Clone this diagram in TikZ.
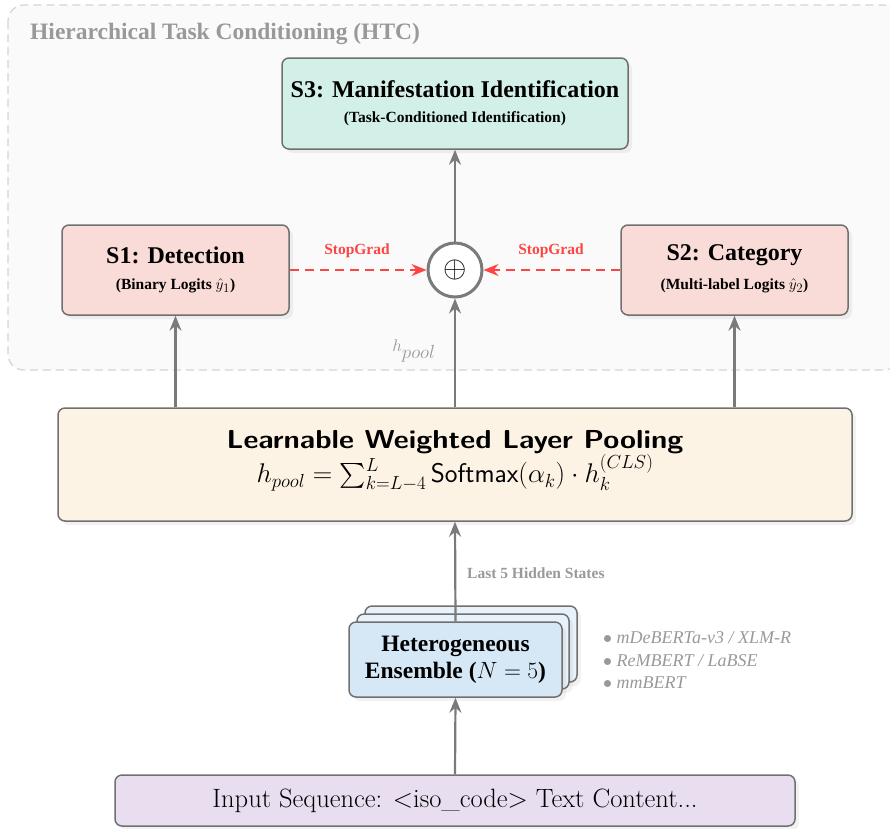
\RequirePackage{fix-cm}
\documentclass[tikz,border=0pt]{standalone}
\usepackage{exscale}
\usepackage{graphicx}
\usepackage{fontspec}
\newfontfamily\tms{Liberation Serif}
\usetikzlibrary{arrows.meta,shadows}

% explicit math size ladders for the large type used below
\DeclareMathSizes{27}{27}{18.9}{13.5}
\DeclareMathSizes{23.5}{23.5}{16.5}{11.8}
\DeclareMathSizes{30}{30}{21}{15}

% subscript set at a chosen size
\newcommand{\bigsub}[2]{\mbox{\fontsize{#1}{#1}\selectfont$#2$}}

\definecolor{edgegray}{HTML}{707070}
\definecolor{arrowgray}{HTML}{7A7A7A}
\definecolor{softgray}{HTML}{999999}
\definecolor{panelfill}{HTML}{FAFAFA}
\definecolor{paneledge}{HTML}{D4D4D4}
\definecolor{mintfill}{HTML}{D2F0E8}
\definecolor{pinkfill}{HTML}{F9DCD8}
\definecolor{creamfill}{HTML}{FDF3E4}
\definecolor{bluefill}{HTML}{D6E8F6}
\definecolor{bluelight}{HTML}{E8F2FA}
\definecolor{lilacfill}{HTML}{E8DEF0}
\definecolor{gradred}{HTML}{FF4444}

\tikzset{
  box/.style={draw=edgegray, line width=1.5pt, rounded corners=7pt,
    drop shadow={shadow xshift=4pt, shadow yshift=-4pt, opacity=0.10}},
  txt/.style={inner sep=0pt},
  arr/.style={draw=arrowgray, line width=2.2pt,
    -{Stealth[length=15pt,width=12pt,inset=5pt]}},
  gradarr/.style={draw=gradred, line width=2.2pt, dash pattern=on 9pt off 6pt,
    -{Stealth[length=15pt,width=12pt,inset=5pt]}},
  headtxt/.style={txt, font=\tms\bfseries\fontsize{24}{28}\selectfont},
  subtxt/.style={txt, font=\tms\bfseries\fontsize{15.5}{18}\selectfont},
  gradtxt/.style={txt, font=\tms\bfseries\fontsize{15.5}{18}\selectfont, text=gradred},
  notetxt/.style={txt, font=\tms\itshape\fontsize{18}{22}\selectfont, text=softgray, anchor=west},
}

\begin{document}
\begin{tikzpicture}[x=1pt, y=-1pt]
  \useasboundingbox (0,0) rectangle (890,828);

  % HTC panel
  \draw[fill=panelfill, draw=paneledge, line width=1.2pt, dash pattern=on 8pt off 5pt,
        rounded corners=16pt] (8,5) rectangle (900,370);
  \node[txt, font=\tms\bfseries\fontsize{23.5}{28}\selectfont, text=softgray, anchor=west]
    (htctitle) at (30,34) {Hierarchical Task Conditioning (HTC)};

  % Stage heads
  \node[box, fill=mintfill, minimum width=346pt, minimum height=91pt] (s3) at (455,103.5) {};
  \node[headtxt] (s3title) at (455,89) {S3: Manifestation Identification};
  \node[subtxt] (s3sub) at (455,119) {(Task-Conditioned Identification)};

  \node[box, fill=pinkfill, minimum width=227pt, minimum height=90pt] (s1) at (175.5,270) {};
  \node[headtxt] (s1title) at (175.5,255) {S1: Detection};
  \node[subtxt] (s1sub) at (175.5,286) {(Binary Logits $\hat{y}_{\bigsub{13}{1}}$)};

  \node[box, fill=pinkfill, minimum width=227pt, minimum height=90pt] (s2) at (734.5,270) {};
  \node[headtxt] (s2title) at (734.5,255) {S2: Category};
  \node[subtxt] (s2sub) at (734.5,286) {(Multi-label Logits $\hat{y}_{\bigsub{13}{2}}$)};

  % Fusion node
  \node[circle, draw=arrowgray, line width=3pt, fill=white, minimum size=54pt, inner sep=0pt,
        font=\fontsize{30}{32}\selectfont] (sum) at (455,270) {$\oplus$};

  \draw[gradarr] (s1.east) -- (sum.west);
  \draw[gradarr] (s2.west) -- (sum.east);
  \node[gradtxt] (sg1) at (357,251) {StopGrad};
  \node[gradtxt] (sg2) at (551,251) {StopGrad};
  \draw[arr] (sum.north) -- (s3.south);

  % Pooling
  \node[box, fill=creamfill, minimum width=794pt, minimum height=113pt] (pool) at (455,464.5) {};
  \node[txt, font=\sffamily\bfseries\fontsize{26}{30}\selectfont] (pooltitle) at (455,442)
    {\scalebox{1.12}[1]{Learnable Weighted Layer Pooling}};
  \node[txt, font=\fontsize{27}{32}\selectfont] (poolformula) at (455,473)
    {$h_{pool} = \sum_{k=L-4}^{L} \textsf{Softmax}(\alpha_k)\cdot h_k^{(CLS)}$};

  \draw[arr] (pool.north -| s1.south) -- (s1.south);
  \draw[arr] (pool.north) -- (sum.south);
  \draw[arr] (pool.north -| s2.south) -- (s2.south);
  \node[txt, font=\fontsize{17}{20}\selectfont, text=softgray] (hlabel) at (414,351)
    {$h_{\bigsub{19}{pool}}$};

  % Encoder ensemble (stacked cards)
  \node[box, fill=bluelight, minimum width=212pt, minimum height=76pt] (ens3) at (471,644) {};
  \node[box, fill=bluelight, minimum width=212pt, minimum height=75pt] (ens2) at (463,651.5) {};
  \node[box, fill=bluefill, minimum width=213pt, minimum height=75pt] (ens) at (455.5,659.5) {};
  \node[txt, align=center, font=\tms\bfseries\fontsize{23.5}{27}\selectfont] (enstxt) at (455.5,659.5)
    {Heterogeneous\\Ensemble ($N=5$)};

  \draw[arr] (ens.north) -- (pool.south);
  \node[txt, font=\tms\bfseries\fontsize{15.5}{18}\selectfont, text=softgray, anchor=west]
    (hidden) at (467,573) {Last 5 Hidden States};

  \node[notetxt] (m1) at (603,638) {$\bullet$ mDeBERTa-v3 / XLM-R};
  \node[notetxt] (m2) at (603,661) {$\bullet$ ReMBERT / LaBSE};
  \node[notetxt] (m3) at (603,683) {$\bullet$ mmBERT};

  % Input
  \node[box, fill=lilacfill, minimum width=680pt, minimum height=51pt] (inp) at (455,800.5) {};
  \node[txt, font=\fontsize{26.5}{30}\selectfont] (inptxt) at (455,801)
    {Input Sequence: $<$iso\_code$>$ Text Content...};
  \draw[arr] (inp.north) -- (ens.south);
\end{tikzpicture}
\end{document}
